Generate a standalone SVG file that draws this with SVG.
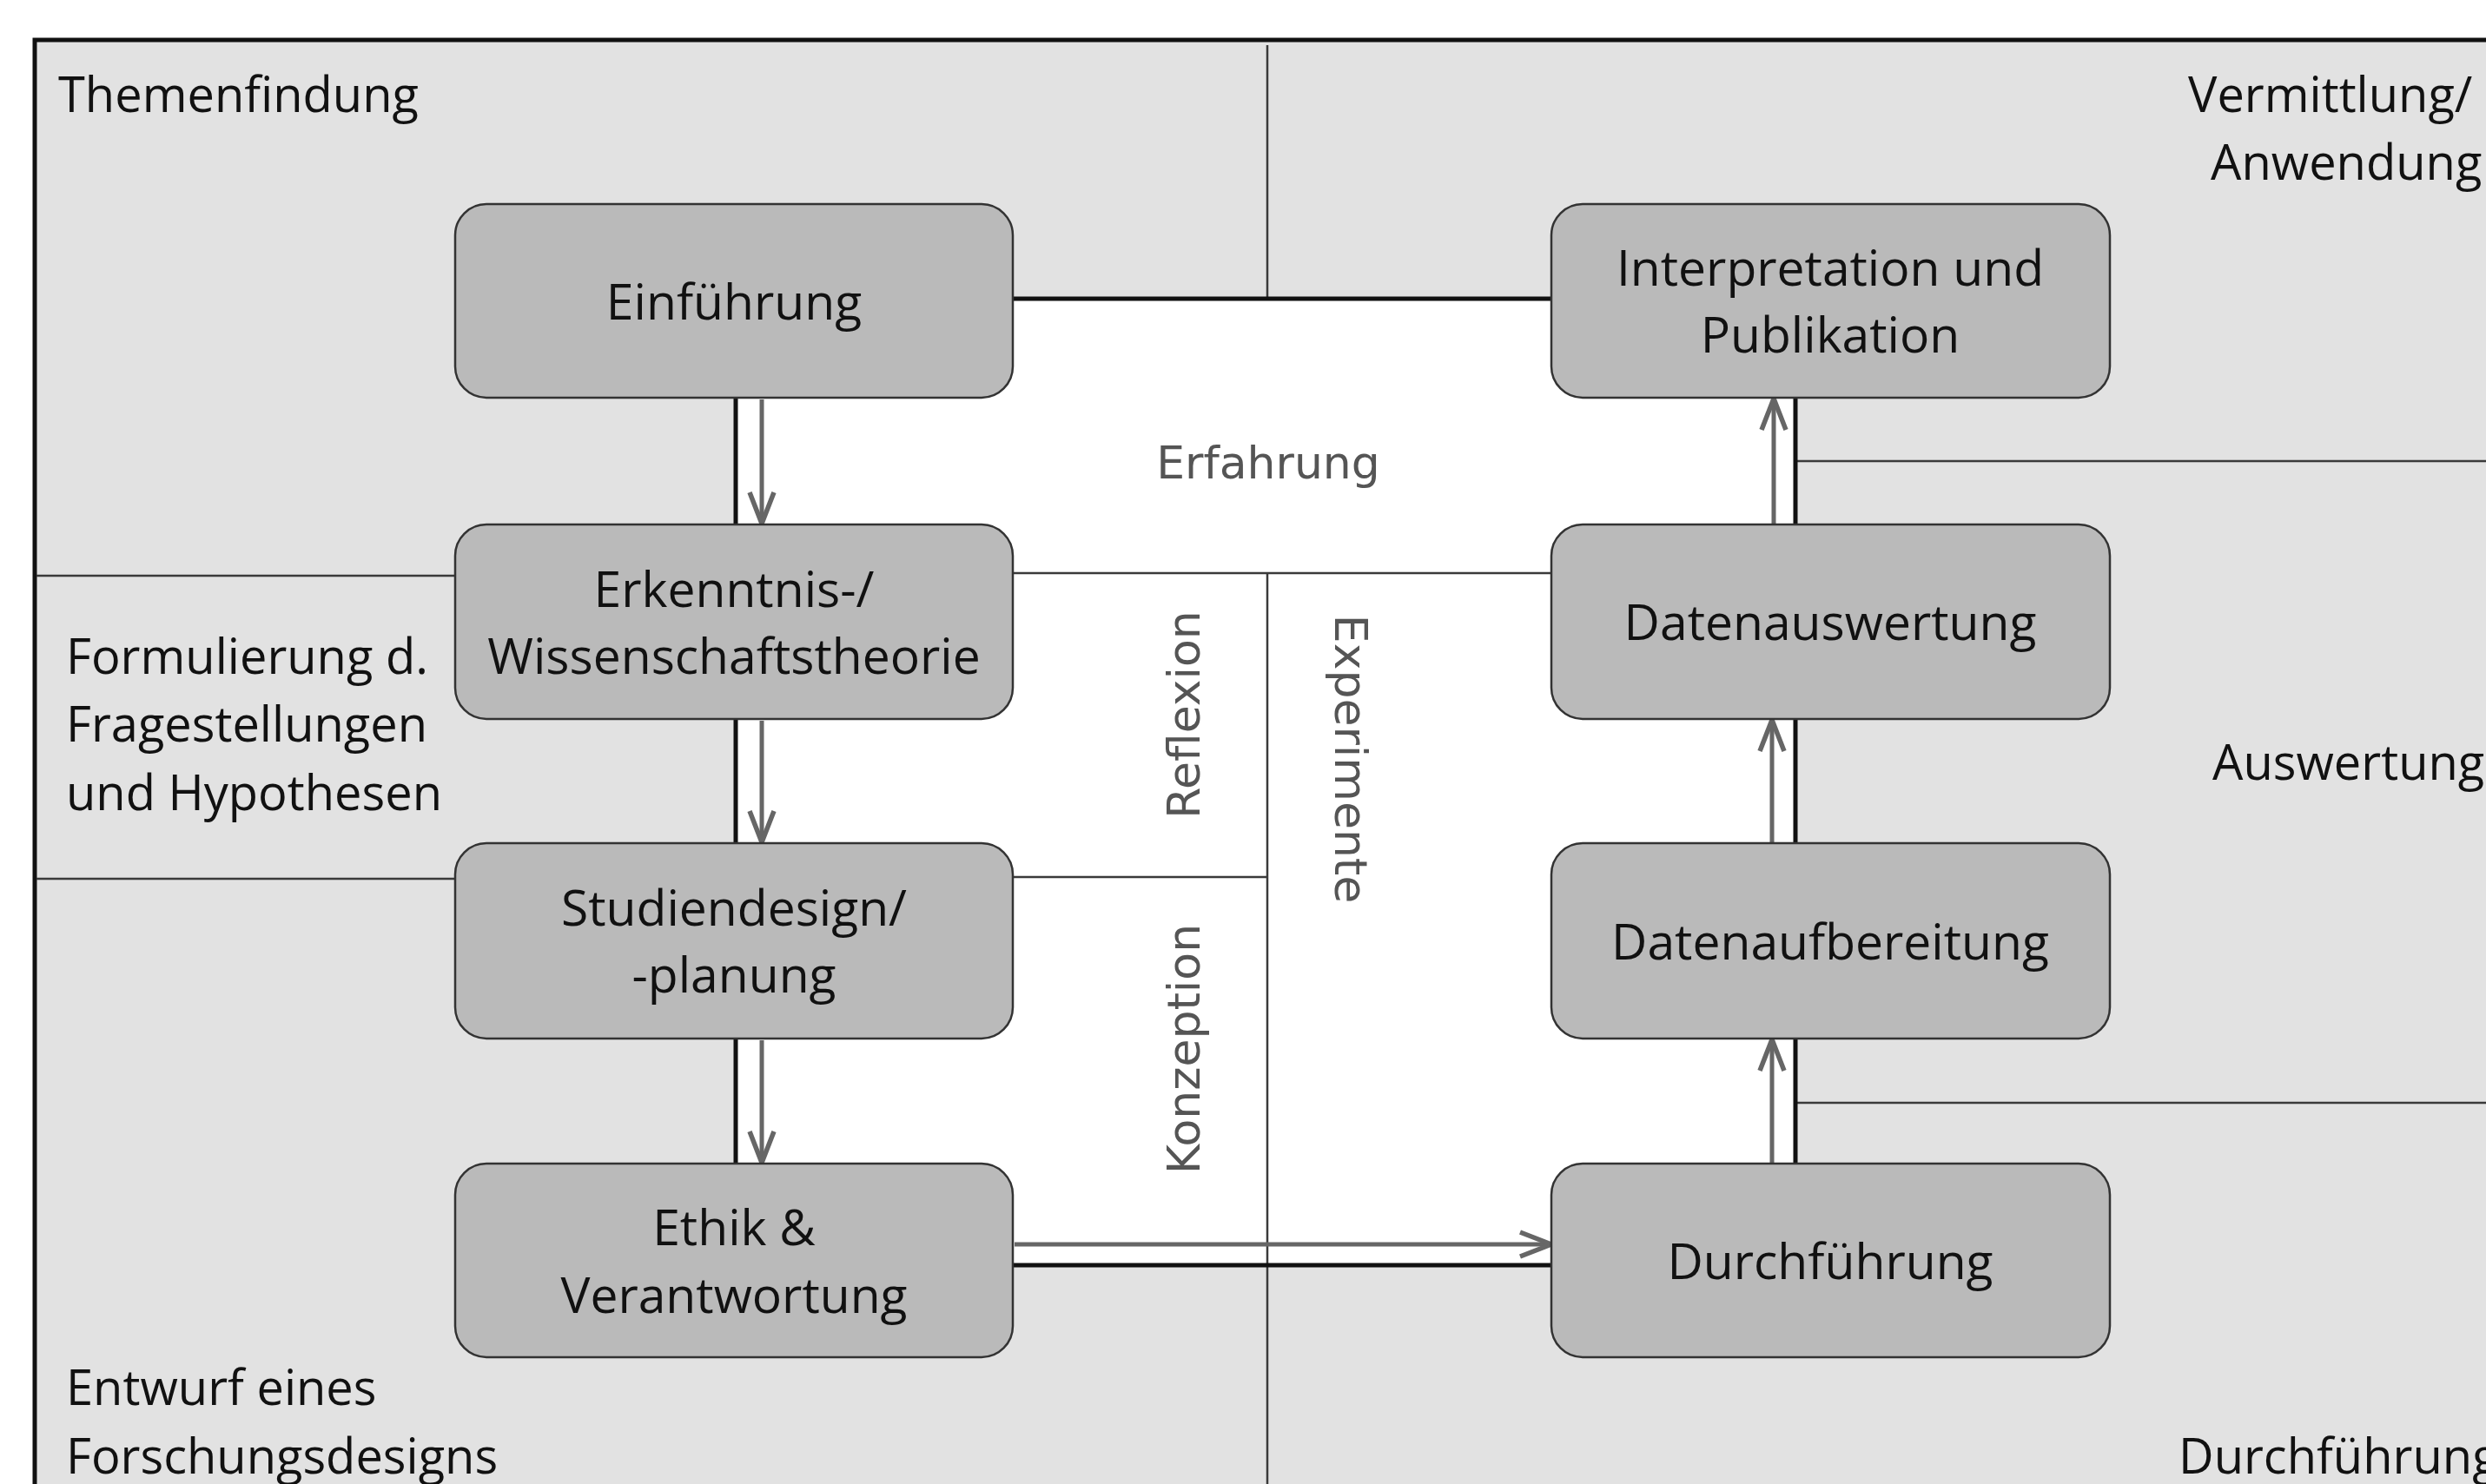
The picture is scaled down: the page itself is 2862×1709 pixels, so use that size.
<svg xmlns="http://www.w3.org/2000/svg" width="2862" height="1709" viewBox="0 0 2862 1709">
<style>
.node rect{fill:#bababa;stroke:#333;stroke-width:2.5}
.nt{font-family:"Open Sans","Liberation Sans",sans-serif;font-size:57px;fill:#111;text-anchor:middle}
.lab{font-family:"Open Sans","Liberation Sans",sans-serif;font-size:56px;fill:#111}
.side{font-family:"DejaVu Sans","Liberation Sans",sans-serif;font-size:52px;fill:#555;text-anchor:middle}
.thin{stroke:#3a3a3a;stroke-width:2.5;fill:none}
.thick{stroke:#111;stroke-width:5;fill:none}
.arr{stroke:#666;stroke-width:5;fill:none;marker-end:url(#ah)}
</style>
<defs>
<marker id="ah" markerUnits="userSpaceOnUse" markerWidth="46" markerHeight="36" refX="40" refY="17" orient="auto">
<path d="M4,3 L40,17 L4,31" fill="none" stroke="#666" stroke-width="5.5" stroke-linejoin="miter"/>
</marker>
</defs>
<rect x="0" y="0" width="2862" height="1709" fill="#ffffff"/>
<g id="background">
<rect x="40" y="46" width="2900" height="1750" fill="#e2e2e2" stroke="#111" stroke-width="5"/>
<rect x="847" y="344" width="1220" height="1113" fill="#ffffff"/>
</g>
<g id="dividers">
<line class="thin" x1="1459" y1="52" x2="1459" y2="344"/>
<line class="thin" x1="1459" y1="660" x2="1459" y2="1712"/>
<line class="thin" x1="42" y1="663" x2="524" y2="663"/>
<line class="thin" x1="42" y1="1012" x2="524" y2="1012"/>
<line class="thin" x1="1166" y1="660" x2="1785" y2="660"/>
<line class="thin" x1="1166" y1="1010" x2="1459" y2="1010"/>
<line class="thin" x1="2067" y1="531" x2="2862" y2="531"/>
<line class="thin" x1="2067" y1="1270" x2="2862" y2="1270"/>
<line class="thick" x1="1166" y1="344" x2="1785" y2="344"/>
<line class="thick" x1="1166" y1="1457" x2="1785" y2="1457"/>
<line class="thick" x1="847" y1="458" x2="847" y2="1340"/>
<line class="thick" x1="2067" y1="458" x2="2067" y2="1340"/>
</g>
<g id="phase-labels">
<text class="lab" x="67" y="129">Themenfindung</text>
<text class="lab" x="76" y="776">Formulierung d.</text>
<text class="lab" x="76" y="854">Fragestellungen</text>
<text class="lab" x="76" y="933">und Hypothesen</text>
<text class="lab" x="76" y="1618">Entwurf eines</text>
<text class="lab" x="76" y="1697">Forschungsdesigns</text>
<text class="lab" x="2519" y="129">Vermittlung/</text>
<text class="lab" x="2545" y="207">Anwendung</text>
<text class="lab" x="2547" y="898">Auswertung</text>
<text class="lab" x="2508" y="1697">Durchführung</text>
</g>
<g id="area-labels">
<text class="side" x="1460" y="551">Erfahrung</text>
<text class="side" transform="translate(1381,823) rotate(-90)">Reflexion</text>
<text class="side" transform="translate(1381,1208) rotate(-90)">Konzeption</text>
<text class="side" transform="translate(1537,874) rotate(90)">Experimente</text>
</g>
<g id="connectors">
<line class="arr" x1="877" y1="460" x2="877" y2="603"/>
<line class="arr" x1="877" y1="830" x2="877" y2="970"/>
<line class="arr" x1="877" y1="1198" x2="877" y2="1339"/>
<line class="arr" x1="1168" y1="1433" x2="1786" y2="1433"/>
<line class="arr" x1="2040" y1="1339" x2="2040" y2="1197"/>
<line class="arr" x1="2040" y1="970" x2="2040" y2="829"/>
<line class="arr" x1="2042" y1="603" x2="2042" y2="459"/>
</g>
<g id="node-einfuehrung" class="node">
<rect x="524" y="235" width="642" height="223" rx="36"/>
<text class="nt" x="845" y="368">Einführung</text>
</g>
<g id="node-erkenntnis" class="node">
<rect x="524" y="604" width="642" height="224" rx="36"/>
<text class="nt" x="845" y="699">Erkenntnis-/</text>
<text class="nt" x="845" y="776">Wissenschaftstheorie</text>
</g>
<g id="node-studiendesign" class="node">
<rect x="524" y="971" width="642" height="225" rx="36"/>
<text class="nt" x="845" y="1066">Studiendesign/</text>
<text class="nt" x="845" y="1143">-planung</text>
</g>
<g id="node-ethik" class="node">
<rect x="524" y="1340" width="642" height="223" rx="36"/>
<text class="nt" x="845" y="1434">Ethik &amp;</text>
<text class="nt" x="845" y="1512">Verantwortung</text>
</g>
<g id="node-interpretation" class="node">
<rect x="1786" y="235" width="643" height="223" rx="36"/>
<text class="nt" x="2107" y="329">Interpretation und</text>
<text class="nt" x="2107" y="406">Publikation</text>
</g>
<g id="node-datenauswertung" class="node">
<rect x="1786" y="604" width="643" height="224" rx="36"/>
<text class="nt" x="2107" y="737">Datenauswertung</text>
</g>
<g id="node-datenaufbereitung" class="node">
<rect x="1786" y="971" width="643" height="225" rx="36"/>
<text class="nt" x="2107" y="1105">Datenaufbereitung</text>
</g>
<g id="node-durchfuehrung" class="node">
<rect x="1786" y="1340" width="643" height="223" rx="36"/>
<text class="nt" x="2107" y="1473">Durchführung</text>
</g>
</svg>
